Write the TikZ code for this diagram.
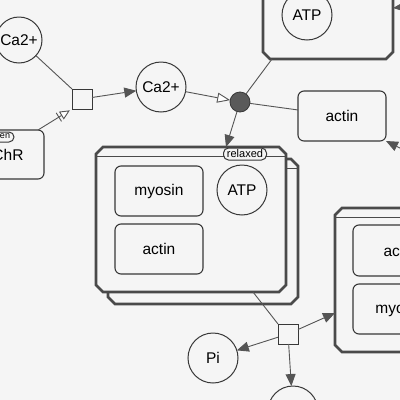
\documentclass[tikz,border=0pt]{standalone}
\usepackage{fontspec}
\setmainfont{Liberation Sans}
\usetikzlibrary{arrows.meta,calc}
\definecolor{bg}{HTML}{F5F5F5}
\definecolor{ln}{HTML}{555555}
\definecolor{bd}{HTML}{383838}
\definecolor{cxc}{HTML}{4A4A4A}
\definecolor{dot}{HTML}{5A5A5A}
\newcommand\cxbox[5]{%
  \draw[cxline] (#2+7,#3) -- (#4-7,#3) -- (#4,#3+7) -- (#4,#5-7) -- (#4-7,#5) -- (#2+7,#5) -- (#2,#5-7) -- (#2,#3+7) -- cycle;
  \draw[cxinner] (#2+1.3,#3+9.5) -- (#4-1.3,#3+9.5);
  \node[rectangle, draw=none, inner sep=0pt, outer sep=0pt, minimum width={#4-#2}, minimum height={#5-#3}] (#1) at ({(#2+#4)/2},{(#3+#5)/2}) {};%
}
\begin{document}
\begin{tikzpicture}[x=1pt,y=-1pt,
  every node/.style={font=\fontsize{15.5}{18}\selectfont, inner sep=0pt, outer sep=0pt},
  cxline/.style={draw=cxc, line width=2.6pt, fill=bg, line join=miter},
  cxinner/.style={draw=cxc, line width=0.8pt},
  macro/.style={rectangle, rounded corners=6pt, draw=bd, line width=1.1pt, fill=bg},
  simple/.style={circle, draw=bd, line width=1pt, fill=bg, minimum size=50pt},
  pill/.style={rectangle, rounded corners=5pt, draw=bd, line width=1pt, fill=bg, font=\fontsize{11}{12}\selectfont},
  procbox/.style={rectangle, draw=bd, line width=0.9pt, fill=bg, minimum size=20pt},
  conn/.style={draw=ln, line width=0.9pt},
  prod/.style={conn, -{Triangle[length=12pt,width=10pt]}},
  stim/.style={conn, -{Triangle[open,length=13pt,width=10pt,fill=white]}},
  nec/.style={conn, -{Bar[width=10pt,sep=2.5pt] Triangle[open,length=10pt,width=9pt,fill=white,sep=2.5pt]}}
]
\useasboundingbox (0,0) rectangle (400,400);
\fill[bg] (0,0) rectangle (400,400);
\clip (0,0) rectangle (400,400);

% complexes
\cxbox{topcx}{263}{-80}{393}{59}
\cxbox{relB}{108}{159}{298}{304}
\cxbox{relF}{96}{147}{286}{292}
\cxbox{rcx}{335}{208}{480}{352}

% nodes
\node[simple, minimum size=46pt] (caL) at (19,40) {Ca2+};
\node[simple] (caM) at (161,87) {Ca2+};
\node[procbox] (pr1) at (82,99) {};
\node[macro, minimum width=72pt, minimum height=49pt] (chr) at (8,154.5) {ChR};
\node[pill, minimum width=28pt, minimum height=10pt, font=\fontsize{9}{10}\selectfont] (open) at (0,137) {open};
\node[circle, draw=bd, fill=dot, line width=0.8pt, minimum size=20pt] (assoc) at (240,102) {};
\node[macro, minimum width=88pt, minimum height=50pt] (actin1) at (342,116) {actin};
\node[simple] (atpT) at (307,15) {ATP};

\node[macro, minimum width=88pt, minimum height=50pt] (myoF) at (159,191) {myosin};
\node[macro, minimum width=88pt, minimum height=50pt] (actF) at (159,249) {actin};
\node[simple] (atpF) at (242,190) {ATP};
\node[pill, minimum width=43pt, minimum height=12pt] (relx) at (245,154) {relaxed};

\node[macro, minimum width=94pt, minimum height=51pt] (actR) at (400,250.5) {actin};
\node[macro, minimum width=94pt, minimum height=50pt] (myoR) at (400,309) {myosin};

\node[procbox] (pr2) at (288,334) {};
\node[simple] (pi) at (213,358) {Pi};
\node[simple] (bot) at (293,411) {};

% free ends
\coordinate (offA) at (432,164);
\coordinate (offB) at (440,3);
\coordinate (yB) at (0,8);

% connectors
\draw[conn] (caL) -- (pr1.north west);
\draw[prod] (pr1) -- (caM);
\draw[nec] ($(chr.north east)+(-6,0)$) -- (pr1.south west);
\draw[stim] (caM) -- (assoc);
\draw[conn] (assoc) -- ($(topcx.south)+(-56,0)$);
\draw[conn] (assoc) -- (actin1);
\draw[prod] (assoc) -- ($(relF.north)+(35,0)$);
\draw[prod] (offA) -- (actin1.south east);
\draw[prod] (offB) -- (topcx.east |- yB);
\draw[conn] ($(relF.south)+(62,0)$) -- (pr2.north west);
\draw[prod] (pr2) -- ($(rcx.west)+(0,33)$);
\draw[prod] (pr2) -- (pi);
\draw[prod] (pr2) -- (bot);
\end{tikzpicture}
\end{document}
